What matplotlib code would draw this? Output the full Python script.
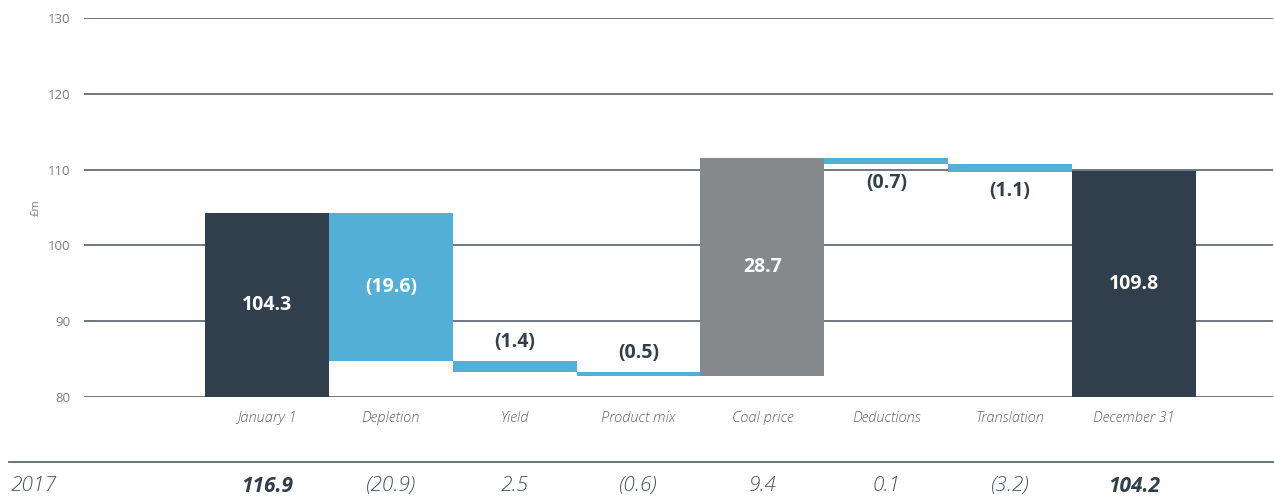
import matplotlib
matplotlib.use("Agg")
import matplotlib.pyplot as plt
import matplotlib.transforms as mtransforms
from matplotlib.lines import Line2D
import numpy as np

plt.rcParams['font.family'] = ['Open Sans', 'DejaVu Sans']

# waterfall data (£m)
categories = ['January 1', 'Depletion', 'Yield', 'Product mix', 'Coal price',
              'Deductions', 'Translation', 'December 31']
start_value = 104.3
changes = [-19.6, -1.4, -0.5, 28.7, -0.7, -1.1]
end_value = 109.8
bar_labels = ['104.3', '(19.6)', '(1.4)', '(0.5)', '28.7', '(0.7)', '(1.1)', '109.8']
# label placement: inside / above / below
label_pos = ['in', 'in', 'above', 'above', 'in', 'below', 'below', 'in']

prior_year = '2017'
prior_values = ['116.9', '(20.9)', '2.5', '(0.6)', '9.4', '0.1', '(3.2)', '104.2']
prior_bold = [True, False, False, False, False, False, False, True]

DARK = '#313e4b'
BLUE = '#54afd6'
GREY = '#85898c'
TXT = '#7a7f86'

# bottoms / heights
levels = start_value + np.cumsum([0] + changes)
bottoms = [80.0]
heights = [start_value - 80.0]
colors = [DARK]
for i, c in enumerate(changes):
    lo = min(levels[i], levels[i + 1])
    bottoms.append(lo)
    heights.append(abs(c))
    colors.append(GREY if c > 0 else BLUE)
bottoms.append(80.0)
heights.append(end_value - 80.0)
colors.append(DARK)

fig = plt.figure(figsize=(12.74, 5.03), dpi=100)
ax = fig.add_axes([0.066, 0.2107, 0.933, 0.7535])

x = np.arange(len(categories))
ax.set_ylim(80, 130)
ax.set_xlim(-1.476, 8.12)
ax.set_yticks(np.arange(80, 131, 10))
ax.yaxis.grid(True, color='#56606b', linewidth=1.2)
ax.set_axisbelow(True)
for s in ax.spines.values():
    s.set_visible(False)
ax.tick_params(axis='y', length=0, pad=10, labelsize=9.5, labelcolor=TXT)
ax.set_xticks([])

ax.bar(x, heights, bottom=bottoms, width=1.0, color=colors, zorder=3)

for i in range(len(categories)):
    top = bottoms[i] + heights[i]
    if label_pos[i] == 'in':
        ax.text(x[i], bottoms[i] + heights[i] / 2, bar_labels[i], ha='center', va='center',
                color='white', fontsize=14, fontweight='bold', zorder=4)
    elif label_pos[i] == 'above':
        ax.annotate(bar_labels[i], (x[i], top), xytext=(0, 14), textcoords='offset points',
                    ha='center', va='center', color=DARK, fontsize=14, fontweight='bold')
    else:
        ax.annotate(bar_labels[i], (x[i], bottoms[i]), xytext=(0, -14), textcoords='offset points',
                    ha='center', va='center', color=DARK, fontsize=14, fontweight='bold')

ax.set_ylabel('£m', fontsize=8, color=TXT, labelpad=4)

# category labels under the axis
trans_ax = mtransforms.blended_transform_factory(ax.transData, ax.transAxes)
for i, cat in enumerate(categories):
    ax.text(x[i], -0.055, cat, transform=trans_ax, ha='center', va='center',
            fontsize=10.5, style='italic', fontweight='light', color='#5f656c')

# prior-year row
fig.add_artist(Line2D([0.007, 1.0], [0.0815, 0.0815], transform=fig.transFigure,
                      color='#5d6873', linewidth=1.3))
trans_fig = mtransforms.blended_transform_factory(ax.transData, fig.transFigure)
fig.text(0.008, 0.033, prior_year, ha='left', va='center', fontsize=15,
         style='italic', fontweight='light', color='#4a525b')
for i, v in enumerate(prior_values):
    ax.text(x[i], 0.033, v, transform=trans_fig, ha='center', va='center', fontsize=15,
            style='italic', fontweight='bold' if prior_bold[i] else 'light',
            color=DARK if prior_bold[i] else '#4a525b', clip_on=False)

fig.savefig('out.png', dpi=100)
